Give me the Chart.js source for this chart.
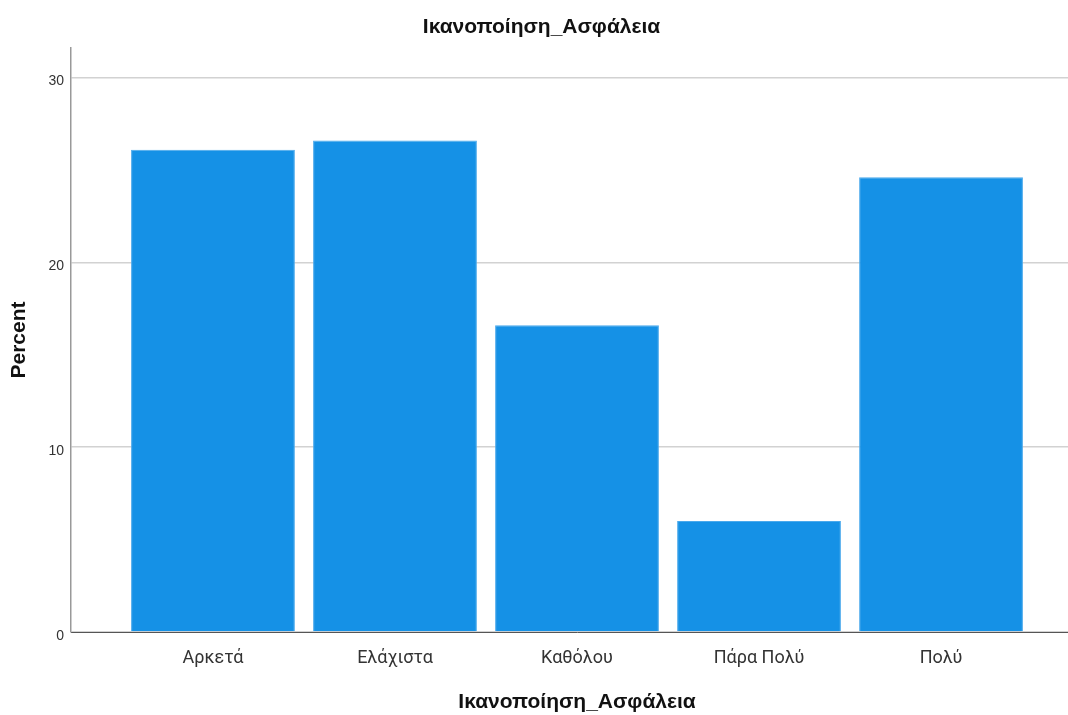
<!DOCTYPE html>
<html>
<head>
<meta charset="utf-8">
<script src="https://cdn.jsdelivr.net/npm/chart.js@4"></script>
<style>
  html, body { margin: 0; padding: 0; background: #fff; overflow: hidden; }
  canvas { display: block; }
</style>
</head>
<body>
<canvas id="chart" width="1083" height="715"></canvas>
<script>
// Data
const categories = ['Αρκετά', 'Ελάχιστα', 'Καθόλου', 'Πάρα Πολύ', 'Πολύ'];
const percent = [26.1, 26.6, 16.6, 6.0, 24.6];
const yTicks = [0, 10, 20, 30];
const chartTitle = 'Ικανοποίηση_Ασφάλεια';
const xTitle = 'Ικανοποίηση_Ασφάλεια';
const yTitle = 'Percent';

const points = categories.map((c, i) => ({ x: i, y: percent[i] }));

new Chart(document.getElementById('chart'), {
    type: 'bar',
    data: {
        datasets: [{
            data: points,
            backgroundColor: '#1591e6',
            borderColor: '#4aa9ec',
            borderWidth: 1,
            categoryPercentage: 1,
            barPercentage: 0.9
        }]
    },
    options: {
        responsive: false,
        animation: false,
        layout: { padding: 0 },
        plugins: {
            legend: { display: false },
            tooltip: { enabled: false },
            title: {
                display: true,
                text: chartTitle,
                color: '#111',
                font: { family: 'Liberation Sans', size: 21, weight: 'bold', lineHeight: 1 },
                padding: { top: 17, bottom: 10 }
            }
        },
        scales: {
            x: {
                type: 'linear',
                offset: false,
                min: -0.78,
                max: 4.78,
                afterBuildTicks: s => { s.ticks = categories.map((c, i) => ({ value: i })); },
                afterFit: s => { s.height = 83; },
                grid: { display: false, drawTicks: false, offset: false },
                border: { display: true, color: '#555', width: 1 },
                ticks: {
                    autoSkip: false,
                    maxRotation: 0,
                    padding: 16,
                    color: '#333',
                    font: { family: 'Roboto', size: 18 },
                    callback: v => categories[v] ?? ''
                },
                title: {
                    display: true,
                    text: xTitle,
                    color: '#111',
                    font: { family: 'Liberation Sans', size: 21, weight: 'bold' },
                    padding: { top: 0, bottom: 0 }
                }
            },
            y: {
                min: 0,
                max: 31.6,
                afterBuildTicks: s => { s.ticks = yTicks.map(v => ({ value: v })); },
                afterFit: s => { s.width = 71; },
                grid: { color: '#d2d2d2', lineWidth: 1.5, drawTicks: false },
                border: { display: true, color: '#999', width: 1.5 },
                ticks: {
                    padding: 7,
                    labelOffset: 4,
                    color: '#333',
                    font: { family: 'Liberation Sans', size: 14 }
                },
                title: {
                    display: true,
                    text: yTitle,
                    color: '#111',
                    font: { family: 'Liberation Sans', size: 21, weight: 'bold' },
                    padding: { top: 7, bottom: 0 }
                }
            }
        }
    }
});
</script>
</body>
</html>
